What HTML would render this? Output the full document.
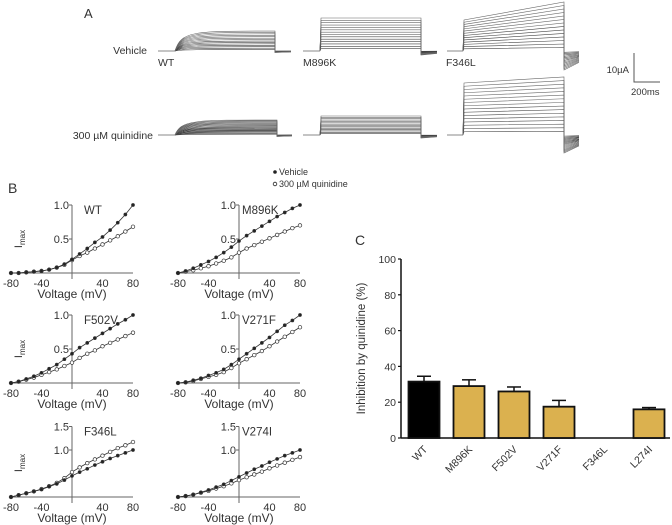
<!DOCTYPE html>
<html><head><meta charset="utf-8"><style>
html,body{margin:0;padding:0;background:#fff;}
svg{display:block;font-family:"Liberation Sans",sans-serif;}
</style></head><body>
<svg id="fig" width="672" height="525" viewBox="0 0 672 525" xmlns="http://www.w3.org/2000/svg">
<g id="panelA"></g>
<g id="panelB"></g>
<g id="panelC"></g>
</svg>
<script>
// ---- Panel B data ----
const voltages = [-80,-70,-60,-50,-40,-30,-20,-10,0,10,20,30,40,50,60,70,80];
const ivNames = ["WT","M896K","F502V","V271F","F346L","V274I"];
const wtVehicle = [0,0,0.01,0.02,0.03,0.05,0.08,0.13,0.2,0.28,0.36,0.45,0.53,0.63,0.74,0.86,1.0];
const wtQuin = [0,0,0.01,0.02,0.03,0.05,0.08,0.12,0.19,0.25,0.3,0.36,0.42,0.48,0.54,0.61,0.68];
const m896kVehicle = [0,0.03,0.07,0.12,0.17,0.23,0.3,0.38,0.47,0.55,0.62,0.69,0.76,0.83,0.89,0.95,1.0];
const m896kQuin = [0,0.02,0.04,0.07,0.1,0.14,0.18,0.23,0.3,0.36,0.41,0.46,0.51,0.56,0.61,0.66,0.7];
const f502vVehicle = [0,0.02,0.06,0.1,0.15,0.21,0.27,0.35,0.43,0.52,0.59,0.66,0.73,0.8,0.87,0.93,1.0];
const f502vQuin = [0,0.02,0.05,0.08,0.12,0.16,0.2,0.25,0.3,0.37,0.43,0.48,0.54,0.59,0.64,0.69,0.74];
const v271fVehicle = [0,0.01,0.04,0.07,0.11,0.15,0.2,0.27,0.35,0.43,0.51,0.59,0.67,0.76,0.85,0.92,1.0];
const v271fQuin = [0,0.01,0.03,0.06,0.09,0.12,0.16,0.22,0.29,0.35,0.41,0.47,0.54,0.61,0.68,0.75,0.82];
const f346lVehicle = [0,0.04,0.08,0.12,0.16,0.22,0.28,0.36,0.45,0.53,0.6,0.68,0.75,0.82,0.88,0.94,1.0];
const f346lQuin = [0,0.04,0.08,0.12,0.17,0.23,0.3,0.4,0.53,0.63,0.72,0.8,0.88,0.96,1.04,1.1,1.17];
const v274iVehicle = [0,0.02,0.05,0.1,0.15,0.21,0.27,0.35,0.43,0.51,0.59,0.66,0.74,0.81,0.88,0.94,1.0];
const v274iQuin = [0,0.02,0.05,0.09,0.13,0.18,0.23,0.29,0.36,0.42,0.48,0.54,0.61,0.67,0.73,0.79,0.85];
const xTickLabels = ["-80","-40","40","80"];
const xTickValues = [-80,-40,40,80];
// ---- Panel C data ----
const barCategories = ["WT","M896K","F502V","V271F","F346L","L274I"];
const barValues = [31.5,29,26,17.5,0,16];
const barErrors = [3,3.5,2.5,3.5,0,1];
const yTickValues = [0,20,40,60,80,100];

const NS="http://www.w3.org/2000/svg";
function mk(parent,tag,attrs,text){const e=document.createElementNS(NS,tag);for(const k in attrs)e.setAttribute(k,attrs[k]);if(text!==undefined)e.textContent=text;parent.appendChild(e);return e;}

// ---- Panel A ----
const A=document.getElementById('panelA');
let t;
t=mk(A,'text',{x:84,y:18,'font-size':13,fill:'#333'},'A');

t=mk(A,'text',{x:147,y:54,'font-size':10.5,'text-anchor':'end',fill:'#333'},'Vehicle');

t=mk(A,'text',{x:153,y:139,'font-size':10.5,'text-anchor':'end',fill:'#333'},'300 µM quinidine');

[["WT",158],["M896K",303],["F346L",446]].forEach(([n,x])=>{const e=mk(A,'text',{x:x,y:66,'font-size':10.5,fill:'#333'},n);

});
function traces(x0,x1,x2,x3,base,topS,topE,n,kind,tail){
 const g=mk(A,'g',{stroke:'#555','stroke-width':0.6,fill:'none'});
 mk(g,'line',{x1:x0,y1:base,x2:x1,y2:base,stroke:'#888','stroke-width':1});
 for(let i=1;i<=n;i++){const f=i/n;const ys=base-(base-topS)*f,ye=base-(base-topE)*f;let d;
  if(kind==='slow'){d=`M${x1},${base} C${x1+6},${ys} ${x1+18},${ye} ${x2},${ye}`;}
  else d=`M${x1},${base} L${x1+1},${ys} L${x2},${ye}`;
  d+=` L${x2},${base+tail*f} L${x3},${base+tail*f*0.6}`;
  mk(g,'path',{d:d,stroke:f>0.5?'#666':'#444'});}
 return g;}
let g;
g=traces(158,175,275,291,51,31,31,14,'slow',1.5);
g=traces(303,320,421,437,51,18,18,14,'fast',4);
g=traces(447,463,564,579,51,20,2,14,'fast',19);
g=traces(158,175,277,292,135,120,120,18,'slow',1.5);
g=traces(303,320,421,437,135,116,116,14,'fast',3);
g=traces(447,463,564,579,135,83,77,16,'fast',18);
g=mk(A,'g',{});
mk(g,'path',{d:'M634,53 L634,82 L660,82',stroke:'#555','stroke-width':1,fill:'none'});
mk(g,'text',{x:629,y:73,'font-size':9.5,'text-anchor':'end',fill:'#333'},'10µA');
mk(g,'text',{x:631,y:95,'font-size':9.5,fill:'#333'},'200ms');

// ---- Panel B ----
const B=document.getElementById('panelB');
t=mk(B,'text',{x:8,y:193,'font-size':14,fill:'#333'},'B');

const lg=mk(B,'g',{});
mk(lg,'circle',{cx:275,cy:172,r:1.8,fill:'#222'});
mk(lg,'text',{x:279,y:175,'font-size':9,fill:'#333'},'Vehicle');
mk(lg,'circle',{cx:275,cy:184,r:1.8,fill:'#fff',stroke:'#222','stroke-width':0.8});
mk(lg,'text',{x:279,y:187,'font-size':9,fill:'#333'},'300 µM quinidine');
const series=[[wtVehicle,wtQuin],[m896kVehicle,m896kQuin],[f502vVehicle,f502vQuin],[v271fVehicle,v271fQuin],[f346lVehicle,f346lQuin],[v274iVehicle,v274iQuin]];
const cols=[{axis:72,xl:11,xr:133},{axis:239,xl:178,xr:300}];
const rows=[{zero:273,scale:68,ticks:[0.5,1.0]},{zero:383,scale:68,ticks:[0.5,1.0]},{zero:497,scale:47,ticks:[1.0,1.5]}];
series.forEach((s,i)=>{
 const c=cols[i%2],r=rows[Math.floor(i/2)];
 const sx=v=>c.xl+(v+80)/160*(c.xr-c.xl);
 const sy=v=>r.zero-v*r.scale;
 const sg=mk(B,'g',{});
 const yMax=r.ticks[r.ticks.length-1];
 mk(sg,'line',{x1:c.xl,y1:r.zero,x2:c.xr,y2:r.zero,stroke:'#666','stroke-width':1});
 mk(sg,'line',{x1:sx(0),y1:sy(yMax),x2:sx(0),y2:r.zero+6,stroke:'#666','stroke-width':1});
 r.ticks.forEach(tv=>{mk(sg,'line',{x1:sx(0)-3,y1:sy(tv),x2:sx(0),y2:sy(tv),stroke:'#666'});
  mk(sg,'text',{x:sx(0)-3,y:sy(tv)+4,'font-size':11,'text-anchor':'end',fill:'#333'},tv.toFixed(1));});
 xTickValues.forEach((tv,k)=>mk(sg,'text',{x:sx(tv),y:r.zero+14,'font-size':11,'text-anchor':'middle',fill:'#333'},xTickLabels[k]));
 mk(sg,'text',{x:(c.xl+c.xr)/2,y:r.zero+25,'font-size':12,'text-anchor':'middle',fill:'#333'},'Voltage (mV)');
 mk(sg,'text',{x:sx(0)+(i%2?3:12),y:sy(yMax)+9,'font-size':11.5,fill:'#333'},ivNames[i]);
 if(i%2===0){const tx=mk(sg,'text',{x:0,y:0,'font-size':11,fill:'#333',transform:`translate(22,${r.zero-34}) rotate(-90)`,'text-anchor':'middle'});
  tx.textContent='I';mk(tx,'tspan',{'font-size':8,dy:3},'max');}
 [[s[1],'#fff'],[s[0],'#222']].forEach(([arr,fill],k)=>{
  const lineG=mk(sg,'g',{});
  
  
  mk(lineG,'polyline',{points:arr.map((v,j)=>sx(voltages[j])+','+sy(v)).join(' '),fill:'none',stroke:'#333','stroke-width':0.8});
  arr.forEach((v,j)=>{const p=mk(lineG,'circle',{cx:sx(voltages[j]),cy:sy(v),r:k?1.5:1.8,fill:fill,stroke:'#333','stroke-width':0.7});
   
   });
 });
});

// ---- Panel C ----
const C=document.getElementById('panelC');
t=mk(C,'text',{x:355,y:245,'font-size':14,fill:'#333'},'C');

const cy0=438,cyTop=259,cx0=401,step=45,firstC=424,bw=31;
const ys=v=>cy0-v/100*(cy0-cyTop);
const ax=mk(C,'g',{});
mk(ax,'line',{x1:cx0,y1:cyTop,x2:cx0,y2:cy0,stroke:'#111','stroke-width':1.5});
mk(ax,'line',{x1:cx0,y1:cy0,x2:670,y2:cy0,stroke:'#111','stroke-width':1.5});
yTickValues.forEach(v=>{mk(ax,'line',{x1:cx0-3,y1:ys(v),x2:cx0,y2:ys(v),stroke:'#111','stroke-width':1.2});
 mk(ax,'text',{x:cx0-5,y:ys(v)+4,'font-size':10.5,'text-anchor':'end',fill:'#333'},String(v));});
t=mk(C,'text',{x:0,y:0,'font-size':11.5,'text-anchor':'middle',fill:'#333',transform:`translate(365,${(cy0+cyTop)/2}) rotate(-90)`},'Inhibition by quinidine (%)');

barCategories.forEach((cat,i)=>{
 const cx=firstC+i*step;
 const bg=mk(C,'g',{});
 if(barValues[i]>0){
  const top=ys(barValues[i]+barErrors[i]);
  mk(bg,'line',{x1:cx,y1:ys(barValues[i]),x2:cx,y2:top,stroke:'#111','stroke-width':1.5});
  mk(bg,'line',{x1:cx-7,y1:top,x2:cx+7,y2:top,stroke:'#111','stroke-width':1.5});
  mk(bg,'rect',{x:cx-bw/2,y:ys(barValues[i]),width:bw,height:cy0-ys(barValues[i]),fill:i===0?'#000':'#dbb14f',stroke:'#111','stroke-width':1.8});
 }
 const l=mk(C,'text',{x:0,y:0,'font-size':10.5,'text-anchor':'end',fill:'#333',transform:`translate(${cx+4},${cy0+12}) rotate(-45)`},cat);
 
 
});
</script>
</body></html>
